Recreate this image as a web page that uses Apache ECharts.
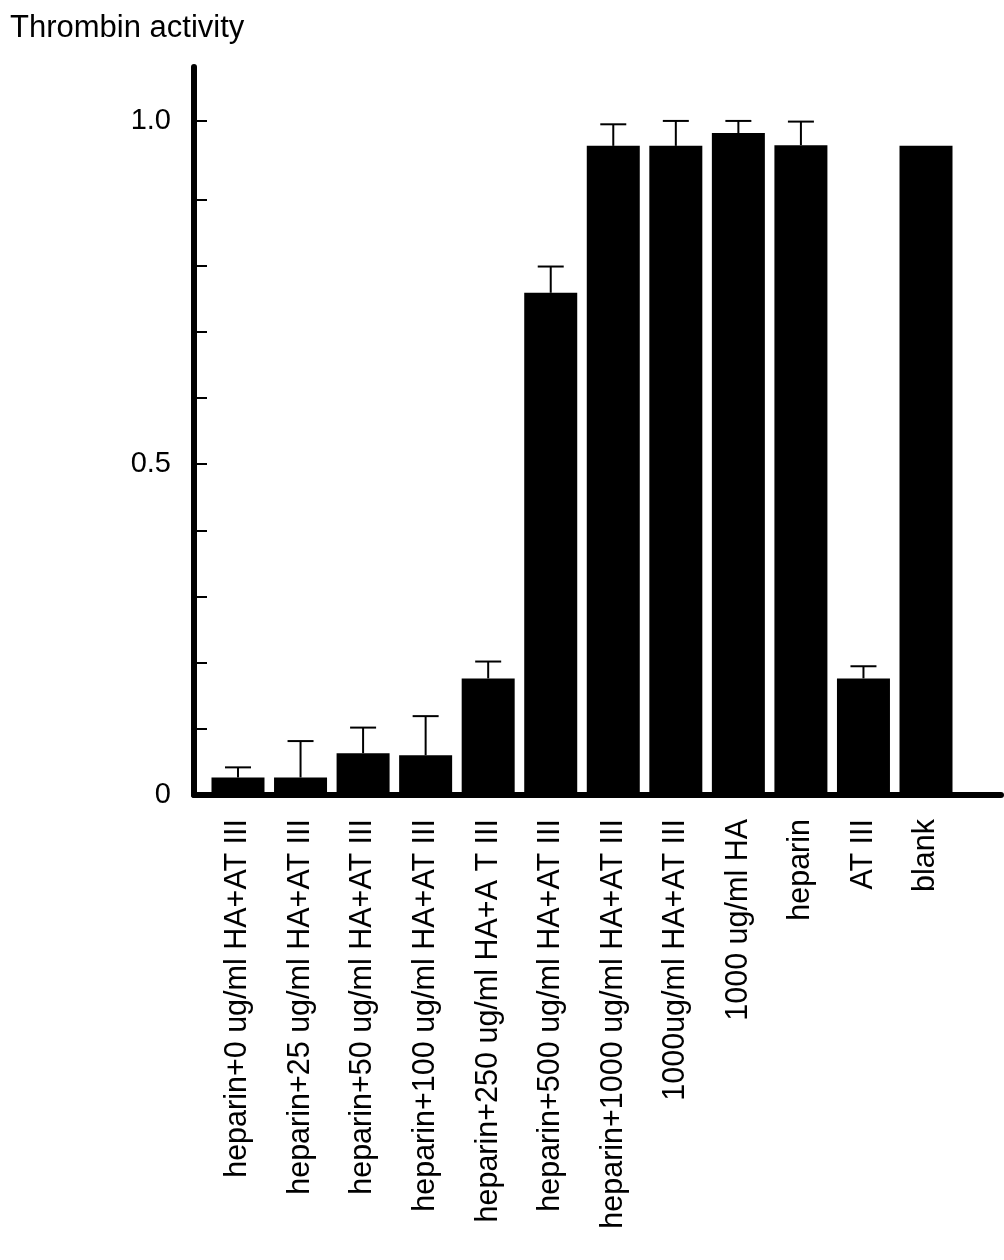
<!DOCTYPE html>
<html>
<head>
<meta charset="utf-8">
<title>Thrombin activity</title>
<script src="https://cdn.jsdelivr.net/npm/echarts@6/dist/echarts.min.js"></script>
<style>
  html, body { margin: 0; padding: 0; background: #fff; }
  #chart { width: 1004px; height: 1260px; }
</style>
</head>
<body>
<div id="chart"></div>
<script>
// categories along x, in drawing order
const categories = [
  'heparin+0 ug/ml HA+AT III',
  'heparin+25 ug/ml HA+AT III',
  'heparin+50 ug/ml HA+AT III',
  'heparin+100 ug/ml HA+AT III',
  'heparin+250 ug/ml HA+A T III',
  'heparin+500 ug/ml HA+AT III',
  'heparin+1000 ug/ml HA+AT III',
  '1000ug/ml HA+AT III',
  '1000 ug/ml HA',
  'heparin',
  'AT III',
  'blank'
]
// mean thrombin activity
const activity = [0.026, 0.026, 0.062, 0.059, 0.173, 0.745, 0.963, 0.963, 0.982, 0.964, 0.173, 0.963]
// upper error (SD), null = no error bar
const errorUp = [0.015, 0.054, 0.038, 0.058, 0.025, 0.039, 0.032, 0.037, 0.018, 0.035, 0.018, null]

// y axis ticks / labels (figure has 0.1 minor ticks, labels at 0, 0.5, 1.0)
const minorTicks = [0.1, 0.2, 0.3, 0.4, 0.5, 0.6, 0.7, 0.8, 0.9]
const lowerLabels = [0, 0.5]
const topTick = [1.0]

const catIndex = categories.map((c, i) => i)
const font = '"Liberation Sans", Arial, Helvetica, sans-serif'

const barData = activity.map((v, i) => [i, v])
const errData = []
activity.forEach((v, i) => {
    if (errorUp[i] != null) errData.push([i, v, v + errorUp[i]])
})

const chart = echarts.init(document.getElementById('chart'))
chart.setOption({
    animation: false,
    backgroundColor: '#fff',
    title: {
        text: 'Thrombin activity',
        left: 5,
        top: 8,
        textStyle: { fontFamily: font, fontSize: 31, fontWeight: 'normal', color: '#000' }
    },
    grid: { left: 194, right: 3, top: 67, bottom: 465 },
    xAxis: {
        type: 'value',
        min: -0.7034,
        max: 12.199,
        splitLine: { show: false },
        axisTick: { show: false },
        axisLine: { show: true, onZero: false, lineStyle: { color: '#000', width: 6 } },
        axisLabel: {
            customValues: catIndex,
            rotate: 90,
            margin: 24,
            fontFamily: font,
            fontSize: 30.5,
            color: '#000',
            formatter: (v) => categories[Math.round(v)] || ''
        }
    },
    yAxis: [
        {
            // data axis: 1.0 sits where the figure labels it
            type: 'value',
            min: 0,
            max: 1.08,
            splitLine: { show: false },
            axisLine: { show: true, onZero: false, lineStyle: { color: '#000', width: 6 } },
            axisTick: {
                show: true, inside: true, length: 13, customValues: topTick,
                lineStyle: { color: '#000', width: 2 }
            },
            axisLabel: {
                customValues: topTick, margin: 23,
                fontFamily: font, fontSize: 29, color: '#000',
                formatter: (v) => v.toFixed(1)
            }
        },
        {
            // minor tick axis of the figure (0 .. 0.9)
            type: 'value',
            position: 'left',
            min: 0,
            max: 1.1,
            splitLine: { show: false },
            axisLine: { show: false, onZero: false },
            axisTick: {
                show: true, inside: true, length: 13, customValues: minorTicks,
                lineStyle: { color: '#000', width: 2 }
            },
            axisLabel: {
                customValues: lowerLabels, margin: 23,
                fontFamily: font, fontSize: 29, color: '#000',
                formatter: (v) => v === 0 ? '0' : v.toFixed(1)
            }
        }
    ],
    series: [
        {
            type: 'bar',
            data: barData,
            barWidth: 53,
            yAxisIndex: 0,
            itemStyle: { color: '#000' },
            z: 2
        },
        {
            type: 'custom',
            yAxisIndex: 0,
            data: errData,
            z: 3,
            renderItem: (params, api) => {
                const top = api.coord([api.value(0), api.value(2)])
                const base = api.coord([api.value(0), api.value(1)])
                const half = 13
                const style = { stroke: '#000', lineWidth: 2 }
                return {
                    type: 'group',
                    children: [
                        { type: 'line', shape: { x1: base[0], y1: base[1], x2: top[0], y2: top[1] }, style },
                        { type: 'line', shape: { x1: top[0] - half, y1: top[1], x2: top[0] + half, y2: top[1] }, style }
                    ]
                }
            }
        }
    ]
})
</script>
</body>
</html>
